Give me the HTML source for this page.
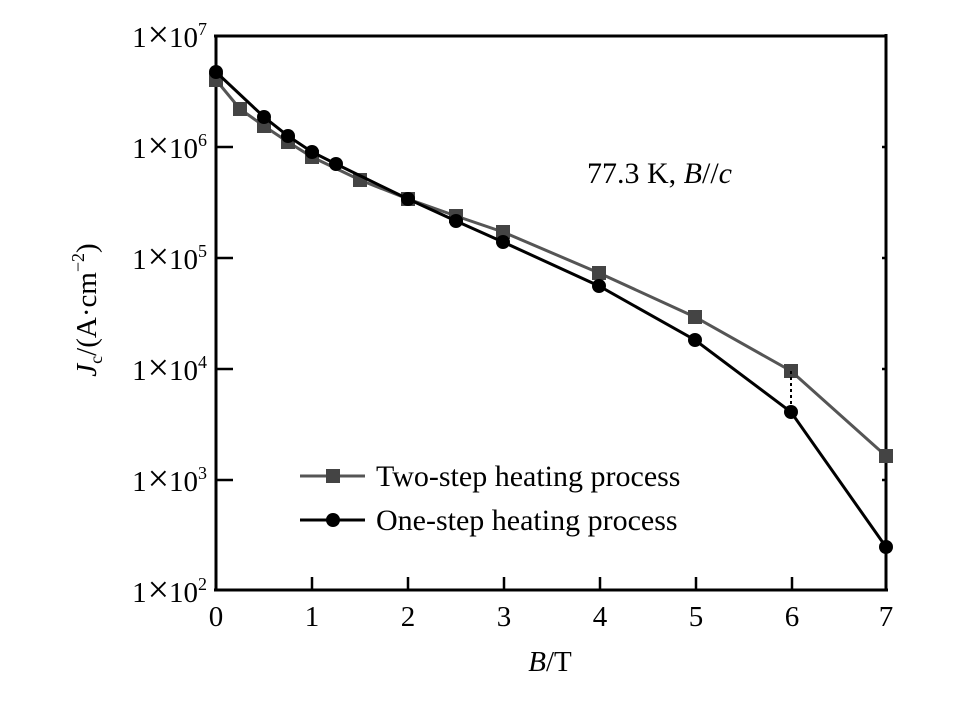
<!DOCTYPE html>
<html><head><style>body{margin:0;background:#fff}</style></head><body>
<svg width="972" height="700" xmlns="http://www.w3.org/2000/svg" font-family="Liberation Serif, serif">
<rect width="972" height="700" fill="#fff"/>
<g stroke="#000" stroke-width="3" fill="none">
<line x1="216" y1="35" x2="216" y2="591"/>
<line x1="214" y1="590" x2="888" y2="590"/>
<line x1="214" y1="36" x2="886" y2="36"/>
<line x1="886" y1="34" x2="886" y2="591"/>
</g>
<g stroke="#000" stroke-width="2.5">
<line x1="216" y1="147" x2="233" y2="147"/><line x1="216" y1="258" x2="233" y2="258"/>
<line x1="216" y1="369" x2="233" y2="369"/><line x1="216" y1="480" x2="233" y2="480"/>
<line x1="886" y1="147" x2="882" y2="147"/><line x1="886" y1="258" x2="882" y2="258"/>
<line x1="886" y1="369" x2="882" y2="369"/><line x1="886" y1="480" x2="882" y2="480"/>
<line x1="312" y1="590" x2="312" y2="577"/><line x1="408" y1="590" x2="408" y2="577"/>
<line x1="504" y1="590" x2="504" y2="577"/><line x1="600" y1="590" x2="600" y2="577"/>
<line x1="696" y1="590" x2="696" y2="577"/><line x1="792" y1="590" x2="792" y2="577"/>
</g>
<g font-size="29" text-anchor="end">
<text x="207" y="47">1<tspan font-size="38" dx="1">×</tspan>10<tspan font-size="18" dy="-12">7</tspan></text>
<text x="207" y="158">1<tspan font-size="38" dx="1">×</tspan>10<tspan font-size="18" dy="-12">6</tspan></text>
<text x="207" y="269">1<tspan font-size="38" dx="1">×</tspan>10<tspan font-size="18" dy="-12">5</tspan></text>
<text x="207" y="380">1<tspan font-size="38" dx="1">×</tspan>10<tspan font-size="18" dy="-12">4</tspan></text>
<text x="207" y="491">1<tspan font-size="38" dx="1">×</tspan>10<tspan font-size="18" dy="-12">3</tspan></text>
<text x="207" y="602">1<tspan font-size="38" dx="1">×</tspan>10<tspan font-size="18" dy="-12">2</tspan></text>
</g>
<g font-size="29" text-anchor="middle">
<text x="216" y="626">0</text><text x="312" y="626">1</text><text x="408" y="626">2</text>
<text x="504" y="626">3</text><text x="600" y="626">4</text><text x="696" y="626">5</text>
<text x="792" y="626">6</text><text x="886" y="626">7</text>
<text x="550" y="671"><tspan font-style="italic">B</tspan>/T</text>
</g>
<text transform="translate(96,310) rotate(-90)" font-size="29" text-anchor="middle"><tspan font-style="italic">J</tspan><tspan font-size="18" dy="6">c</tspan><tspan dy="-6">/(A·cm</tspan><tspan font-size="18" dy="-12">−2</tspan><tspan dy="12">)</tspan></text>
<text x="587" y="183" font-size="30">77.3 K, <tspan font-style="italic">B</tspan>//<tspan font-style="italic">c</tspan></text>
<polyline fill="none" stroke="#555" stroke-width="3" points="216,80 240,109 264,126 288,142 312,157 360,180 408,199 456,216 503,232 599,273 695,317 791,371 886,456"/>
<g fill="#444">
<rect x="209" y="73" width="14" height="14"/><rect x="233" y="102" width="14" height="14"/><rect x="257" y="119" width="14" height="14"/><rect x="281" y="135" width="14" height="14"/><rect x="305" y="150" width="14" height="14"/><rect x="353" y="173" width="14" height="14"/><rect x="401" y="192" width="14" height="14"/><rect x="449" y="209" width="14" height="14"/><rect x="496" y="225" width="14" height="14"/><rect x="592" y="266" width="14" height="14"/><rect x="688" y="310" width="14" height="14"/><rect x="784" y="364" width="14" height="14"/><rect x="879" y="449" width="14" height="14"/>
</g>
<polyline fill="none" stroke="#000" stroke-width="3" points="216,72 264,117 288,136 312,152 336,164 408,199 456,221 503,242 599,286 695,340 791,412 886,547"/>
<g fill="#000">
<circle cx="216" cy="72" r="7"/><circle cx="264" cy="117" r="7"/><circle cx="288" cy="136" r="7"/><circle cx="312" cy="152" r="7"/><circle cx="336" cy="164" r="7"/><circle cx="408" cy="199" r="7"/><circle cx="456" cy="221" r="7"/><circle cx="503" cy="242" r="7"/><circle cx="599" cy="286" r="7"/><circle cx="695" cy="340" r="7"/><circle cx="791" cy="412" r="7"/><circle cx="886" cy="547" r="7"/>
</g>
<line x1="791" y1="371" x2="791" y2="412" stroke="#000" stroke-width="2" stroke-dasharray="3,3"/>
<line x1="300" y1="476" x2="365" y2="476" stroke="#555" stroke-width="3"/>
<rect x="326" y="469" width="14" height="14" fill="#444"/>
<line x1="300" y1="520" x2="365" y2="520" stroke="#000" stroke-width="3"/>
<circle cx="333" cy="520" r="7"/>
<g font-size="30"><text x="376" y="486">Two-step heating process</text><text x="376" y="530">One-step heating process</text></g>
</svg>
</body></html>
